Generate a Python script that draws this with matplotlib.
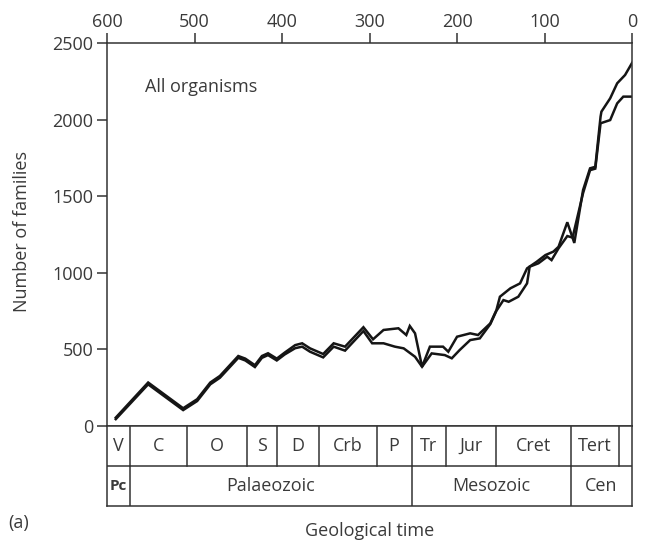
# Number of families through geological time (two estimates), with a period / era strip underneath

import matplotlib.pyplot as plt

# Curve 1 (ends higher at present day)
ages_a = [590, 553, 513, 497, 482, 471, 450, 442, 431, 423, 416, 406, 397, 385, 377, 368, 353, 341, 328,
          307, 296, 284, 267, 258, 254, 248, 240, 231, 216, 210, 200, 185, 176, 162, 155, 151, 139, 128,
          120, 109, 99, 90, 84, 74, 66, 56, 48, 42, 36, 35, 25, 17, 8, 0]
families_a = [55, 284, 116, 175, 284, 327, 457, 440, 397, 457, 475, 440, 479, 528, 540, 507, 470, 540, 518,
              645, 566, 627, 638, 594, 653, 605, 387, 518, 518, 485, 583, 605, 594, 670, 757, 844, 899, 931,
              1029, 1072, 1116, 1138, 1170, 1330, 1195, 1540, 1682, 1692, 2019, 2052, 2139, 2237, 2291, 2370]

# Curve 2 (ends lower at present day)
ages_b = [590, 553, 513, 497, 482, 471, 450, 442, 431, 423, 416, 406, 397, 385, 377, 368, 353, 341, 328,
          307, 297, 284, 271, 261, 248, 240, 229, 214, 206, 197, 185, 174, 162, 155, 147, 141, 130, 120,
          117, 107, 97, 92, 84, 74, 68, 56, 48, 42, 36, 25, 17, 10, 0]
families_b = [45, 272, 104, 163, 272, 315, 445, 428, 385, 445, 463, 428, 467, 508, 518, 485, 448, 518, 492,
              620, 540, 540, 518, 507, 452, 387, 474, 463, 442, 496, 561, 572, 665, 752, 822, 811, 844, 931,
              1040, 1062, 1105, 1083, 1160, 1240, 1230, 1520, 1670, 1680, 1976, 1997, 2106, 2150, 2150]

# Geological strip: periods (top row) and eras (bottom row), boundaries in Ma
periods = ['V', 'C', 'O', 'S', 'D', 'Crb', 'P', 'Tr', 'Jur', 'Cret', 'Tert', '']
period_bounds = [600, 574, 509, 440, 406, 358, 292, 252, 213, 155, 70, 15, 0]
eras = ['Pc', 'Palaeozoic', 'Mesozoic', 'Cen']
era_bounds = [600, 574, 252, 70, 0]

text_col = '#3a3a3a'
line_col = '#151515'
plt.rcParams['font.family'] = ['Open Sans', 'DejaVu Sans']
plt.rcParams['font.size'] = 13

fig = plt.figure(figsize=(6.51, 5.45), dpi=100)
ax = fig.add_axes([0.1644, 0.2183, 0.8065, 0.7028])

# The two curves
ax.plot(ages_a, families_a, color=line_col, lw=1.8, solid_joinstyle='miter')
ax.plot(ages_b, families_b, color=line_col, lw=1.8, solid_joinstyle='miter')

ax.set_xlim(600, 0)
ax.set_ylim(0, 2500)
ax.set_xticks([600, 500, 400, 300, 200, 100, 0])
ax.set_yticks([0, 500, 1000, 1500, 2000, 2500])
ax.xaxis.tick_top()
ax.tick_params(axis='both', direction='out', length=7, width=1.1, color='#333333',
               labelcolor=text_col, labelsize=13)
ax.tick_params(axis='x', pad=2)
ax.tick_params(axis='y', pad=3)
for s in ax.spines.values():
    s.set_color('#333333')
    s.set_linewidth(1.1)

ax.text(557, 2210, 'All organisms', color=text_col, fontsize=13, va='center', ha='left')

# Period / era strip under the plot
tab = fig.add_axes([0.1644, 0.0716, 0.8065, 0.1468], sharex=ax)
tab.set_ylim(0, 2)
tab.tick_params(left=False, bottom=False, top=False, labelleft=False, labelbottom=False, labeltop=False)
for s in tab.spines.values():
    s.set_color('#333333')
    s.set_linewidth(1.1)
tab.axhline(1, color='#333333', lw=1.1)

for b in period_bounds[1:-1]:
    tab.plot([b, b], [1, 2], color='#333333', lw=1.1)
for b in era_bounds[1:-1]:
    tab.plot([b, b], [0, 1], color='#333333', lw=1.1)

for i, name in enumerate(periods):
    mid = (period_bounds[i] + period_bounds[i + 1]) / 2
    tab.text(mid, 1.5, name, ha='center', va='center', color=text_col, fontsize=13)
for i, name in enumerate(eras):
    mid = (era_bounds[i] + era_bounds[i + 1]) / 2
    if name == 'Pc':
        tab.text(mid, 0.5, name, ha='center', va='center', color=text_col, fontsize=11, fontweight='bold')
    else:
        tab.text(mid, 0.5, name, ha='center', va='center', color=text_col, fontsize=13)

fig.text(22 / 651, 1 - 232 / 545, 'Number of families', rotation=90, ha='center', va='center',
         color=text_col, fontsize=13)
fig.text(370 / 651, 1 - 531 / 545, 'Geological time', ha='center', va='center', color=text_col, fontsize=13)
fig.text(8 / 651, 1 - 523 / 545, '(a)', ha='left', va='center', color=text_col, fontsize=13)

fig.savefig('out.png', dpi=100)
